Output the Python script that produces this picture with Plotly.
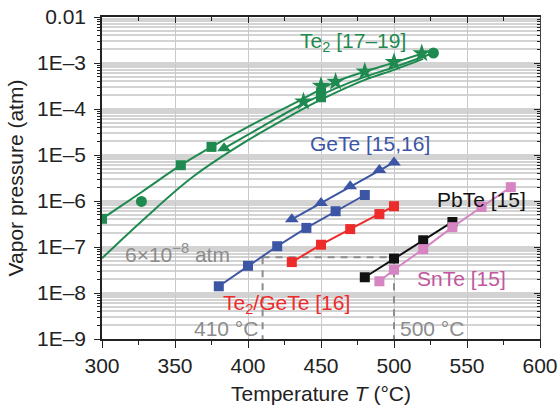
import plotly.graph_objects as go

# ---------------- data ----------------
# Te2 fitted curves
te2_a_T = [300, 327, 354, 375, 400, 434, 460, 480, 500, 520]
te2_a_P = [4.1e-7, 1.55e-6, 6.0e-6, 1.5e-5, 4.1e-5, 1.45e-4, 3.9e-4, 6.5e-4, 1.02e-3, 1.63e-3]
te2_b_T = [383.6, 410, 434, 460, 480, 500, 527]
te2_b_P = [1.4e-5, 4.2e-5, 1.12e-4, 2.8e-4, 5.0e-4, 8.1e-4, 1.65e-3]
te2_c_T = [300, 330, 362.5, 400, 434, 450, 480, 500, 520]
te2_c_P = [5.7e-8, 4.4e-7, 3.4e-6, 2.1e-5, 8.7e-5, 1.6e-4, 4.3e-4, 7.1e-4, 1.23e-3]

# Te2 markers
te2_sq_T = [300, 354, 375, 450, 450]
te2_sq_P = [4.1e-7, 6.0e-6, 1.5e-5, 2.3e-4, 1.8e-4]
te2_tri_T = [383.6]
te2_tri_P = [1.4e-5]
te2_star_T = [438, 450, 460, 480, 500, 519]
te2_star_P = [1.45e-4, 3.2e-4, 3.9e-4, 6.5e-4, 1.05e-3, 1.62e-3]
te2_circ_T = [327, 527]
te2_circ_P = [9.8e-7, 1.65e-3]

# GeTe
gete_sq_T = [380, 400, 420, 440, 460, 480]
gete_sq_P = [1.4e-8, 3.9e-8, 1.04e-7, 2.6e-7, 6.0e-7, 1.35e-6]
gete_tri_T = [430, 450, 470, 490, 500]
gete_tri_P = [4.0e-7, 9.0e-7, 2.1e-6, 4.7e-6, 6.9e-6]

# Te2/GeTe
te2gete_T = [430, 450, 470, 490, 500]
te2gete_P = [4.7e-8, 1.12e-7, 2.45e-7, 5.2e-7, 7.7e-7]

# PbTe
pbte_T = [480, 500, 520, 540]
pbte_P = [2.2e-8, 5.6e-8, 1.4e-7, 3.5e-7]

# SnTe
snte_T = [490, 500, 520, 540, 560, 580]
snte_P = [1.8e-8, 3.2e-8, 9.0e-8, 2.7e-7, 7.4e-7, 2.0e-6]

# guide lines
guide_P = 6e-8
guide_T1 = 410
guide_T2 = 500
p_bottom = 1e-9

# ticks
x_ticks = [300, 350, 400, 450, 500, 550, 600]
y_tickvals = [1e-9, 1e-8, 1e-7, 1e-6, 1e-5, 1e-4, 1e-3, 1e-2]
y_ticktext = ["1E\u20139", "1E\u20138", "1E\u20137", "1E\u20136", "1E\u20135", "1E\u20134", "1E\u20133", "0.01"]

# ---------------- styles ----------------
GREEN = "#1f8a4f"
BLUE = "#3c55a5"
RED = "#ee2b2b"
BLACK = "#111111"
PINK = "#d685c2"
PINK_TXT = "#c4559f"
GRAY = "#8c8c8c"
FONT = "Liberation Sans, Arial, Helvetica, sans-serif"
FS = 21

fig = go.Figure()

def curve(T, P, color):
    fig.add_trace(go.Scatter(x=T, y=P, mode="lines", line=dict(color=color, width=2, shape="spline"),
                             showlegend=False, hoverinfo="skip"))

def pts(T, P, color, symbol, size, lines=False):
    fig.add_trace(go.Scatter(x=T, y=P, mode="lines+markers" if lines else "markers",
                             line=dict(color=color, width=2),
                             marker=dict(color=color, symbol=symbol, size=size, line=dict(width=0)),
                             showlegend=False))

# guide dashed lines
dash = dict(color=GRAY, width=2, dash="7px,6px")
fig.add_trace(go.Scatter(x=[guide_T1, guide_T2], y=[guide_P, guide_P], mode="lines",
                         line=dash, showlegend=False))
fig.add_trace(go.Scatter(x=[guide_T1, guide_T1], y=[guide_P, p_bottom], mode="lines",
                         line=dash, showlegend=False))
fig.add_trace(go.Scatter(x=[guide_T2, guide_T2], y=[guide_P, p_bottom], mode="lines",
                         line=dash, showlegend=False))

curve(te2_a_T, te2_a_P, GREEN)
curve(te2_b_T, te2_b_P, GREEN)
curve(te2_c_T, te2_c_P, GREEN)
pts(te2_sq_T, te2_sq_P, GREEN, "square", 10)
pts(te2_tri_T, te2_tri_P, GREEN, "triangle-up", 12)
pts(te2_star_T, te2_star_P, GREEN, "star", 14)
pts(te2_circ_T, te2_circ_P, GREEN, "circle", 11)

pts(gete_tri_T, gete_tri_P, BLUE, "triangle-up", 12, True)
pts(gete_sq_T, gete_sq_P, BLUE, "square", 10, True)
pts(te2gete_T, te2gete_P, RED, "square", 10, True)
pts(pbte_T, pbte_P, BLACK, "square", 10, True)
pts(snte_T, snte_P, PINK, "square", 10, True)

# overlay axes carrier (top / right frame ticks)
fig.add_trace(go.Scatter(x=[None], y=[None], xaxis="x2", yaxis="y2", showlegend=False))

ann = [
    dict(text="Te<sub>2</sub> [17\u201319]", x=434.2, y=-2.54, color=GREEN),
    dict(text="GeTe [15,16]", x=441.1, y=-4.74, color=BLUE),
    dict(text="PbTe [15]", x=528.1, y=-5.97, color=BLACK),
    dict(text="SnTe [15]", x=514.4, y=-7.68, color=PINK_TXT),
    dict(text="Te<sub>2</sub>/GeTe [16]", x=381.5, y=-8.24, color=RED),
    dict(text="6\u00d710<sup>\u22128</sup> atm", x=314.4, y=-7.12, color=GRAY),
    dict(text="410 \u00b0C", x=361.4, y=-8.78, color=GRAY),
    dict(text="500 \u00b0C", x=502.7, y=-8.78, color=GRAY),
]
for a in ann:
    fig.add_annotation(text=a["text"], x=a["x"], y=a["y"], xref="x", yref="y",
                       xanchor="left", yanchor="middle", showarrow=False,
                       font=dict(family=FONT, size=FS, color=a["color"]))

minor_y = [m * 10.0 ** e for e in range(-9, -2) for m in range(2, 10)]

fig.update_layout(
    width=560, height=408,
    margin=dict(l=102, r=20, t=17, b=69, autoexpand=False),
    paper_bgcolor="white", plot_bgcolor="white",
    font=dict(family=FONT, size=FS, color="#222222"),
    xaxis=dict(range=[300, 600], tickmode="array", tickvals=x_ticks, automargin=False,
               ticks="outside", ticklen=7, tickwidth=1.2, tickcolor="#222",
               showline=True, linecolor="#222", linewidth=1.5,
               showgrid=True, gridcolor="#c8c8c8", gridwidth=1,
               minor=dict(dtick=25, tick0=300, ticks="outside", ticklen=4, tickcolor="#222", showgrid=False),
               title=dict(text="Temperature <i>T</i> (\u00b0C)", standoff=10,
                          font=dict(size=FS)),
               zeroline=False),
    yaxis=dict(type="log", range=[-9, -2], tickmode="array", tickvals=y_tickvals, ticktext=y_ticktext,
               automargin=False,
               ticks="outside", ticklen=6, tickwidth=1.2, tickcolor="#222",
               showline=True, linecolor="#222", linewidth=1.5,
               showgrid=True, gridcolor="#d3d3d3", gridwidth=1.5,
               minor=dict(tickmode="array", tickvals=minor_y, ticks="outside", ticklen=3,
                          tickcolor="#222", showgrid=True, gridcolor="#d3d3d3", gridwidth=1.5),
               title=dict(text="Vapor pressure (atm)", standoff=8, font=dict(size=FS)),
               ticklabelstandoff=4,
               zeroline=False),
    xaxis2=dict(range=[300, 600], overlaying="x", side="top", tickmode="array", tickvals=x_ticks,
                automargin=False,
                ticks="inside", ticklen=6, tickcolor="#222", showticklabels=False,
                showline=True, linecolor="#222", linewidth=1.5, showgrid=False,
                minor=dict(dtick=25, tick0=300, ticks="inside", ticklen=4, tickcolor="#222", showgrid=False),
                zeroline=False),
    yaxis2=dict(type="log", range=[-9, -2], overlaying="y", side="right", tickmode="array",
                automargin=False,
                tickvals=y_tickvals, ticks="inside", ticklen=6, tickcolor="#222", showticklabels=False,
                showline=True, linecolor="#444", linewidth=1, showgrid=False,
                minor=dict(tickmode="array", tickvals=minor_y, ticks="inside", ticklen=3,
                           tickcolor="#222", showgrid=False),
                zeroline=False),
)

fig.write_html("out.html")
